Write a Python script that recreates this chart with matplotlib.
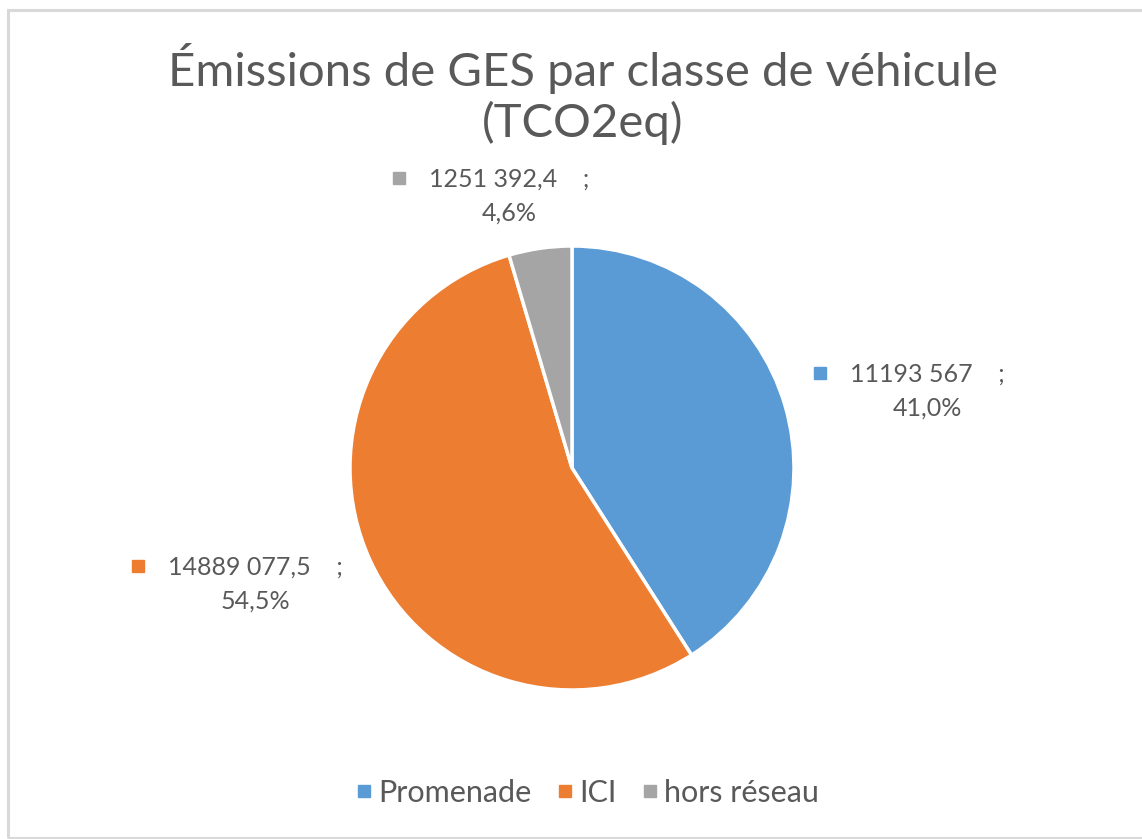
import matplotlib.pyplot as plt
from matplotlib.patches import Rectangle

categories = ["Promenade", "ICI", "hors réseau"]
values = [11193567, 14889077.5, 1251392.4]
colors = ["#5B9BD5", "#ED7D31", "#A5A5A5"]
title = "Émissions de GES par classe de véhicule\n(TCO2eq)"

# label centres (pixels, y from top) - layout only
label_pos = [(927, 391), (255, 584), (509, 196)]

W, H = 1142, 839
FONT = ["Lato", "DejaVu Sans"]
GREY = "#595959"


def fmt_value(v):
    ip = int(v)
    s = f"{ip // 1000} {ip % 1000:03d}" if ip >= 1000 else str(ip)
    frac = round(v - ip, 1)
    if frac > 0:
        s += "," + str(int(round(frac * 10)))
    return s


fig = plt.figure(figsize=(W / 100, H / 100), dpi=100)
ax = fig.add_axes([0, 0, 1, 1])

# chart frame
ax.add_patch(Rectangle((8, 1), W + 20, H - 11, fill=False, edgecolor="#d9d9d9", lw=2.2))

cx, cy, r = 572, H - 468, 222
ax.pie(values, colors=colors, startangle=90, counterclock=False,
       center=(cx, cy), radius=r, frame=True,
       wedgeprops=dict(edgecolor="white", linewidth=2.5))
ax.set_xlim(0, W)
ax.set_ylim(0, H)
ax.set_aspect("equal")
ax.axis("off")

total = sum(values)
fig.canvas.draw()
rend = fig.canvas.get_renderer()
for v, c, (lx, ly) in zip(values, colors, label_pos):
    pct = f"{100 * v / total:.1f}".replace(".", ",") + "%"
    y = H - ly
    t1 = ax.text(lx, y + 17, fmt_value(v) + "    ;", ha="center", va="center",
                 fontsize=18, color=GREY, family=FONT)
    ax.text(lx, y - 17, pct, ha="center", va="center",
            fontsize=18, color=GREY, family=FONT)
    x0 = t1.get_window_extent(rend).x0
    ax.plot(x0 - 30, y + 18, marker="s", ms=8, color=c, linestyle="none")

ax.text(W / 2 + 12, H - 94, title, ha="center", va="center", fontsize=34,
        color=GREY, family=FONT, linespacing=1.2)

handles = [plt.Line2D([], [], marker="s", ms=8, color=c, linestyle="none") for c in colors]
fig.legend(handles, categories, loc="center", bbox_to_anchor=(0.515, 1 - 793 / H),
           ncol=3, frameon=False, handlelength=0.45, handletextpad=0.25,
           columnspacing=0.85, prop=dict(family=FONT, size=22),
           labelcolor=GREY)

fig.savefig("out.png", dpi=100)
